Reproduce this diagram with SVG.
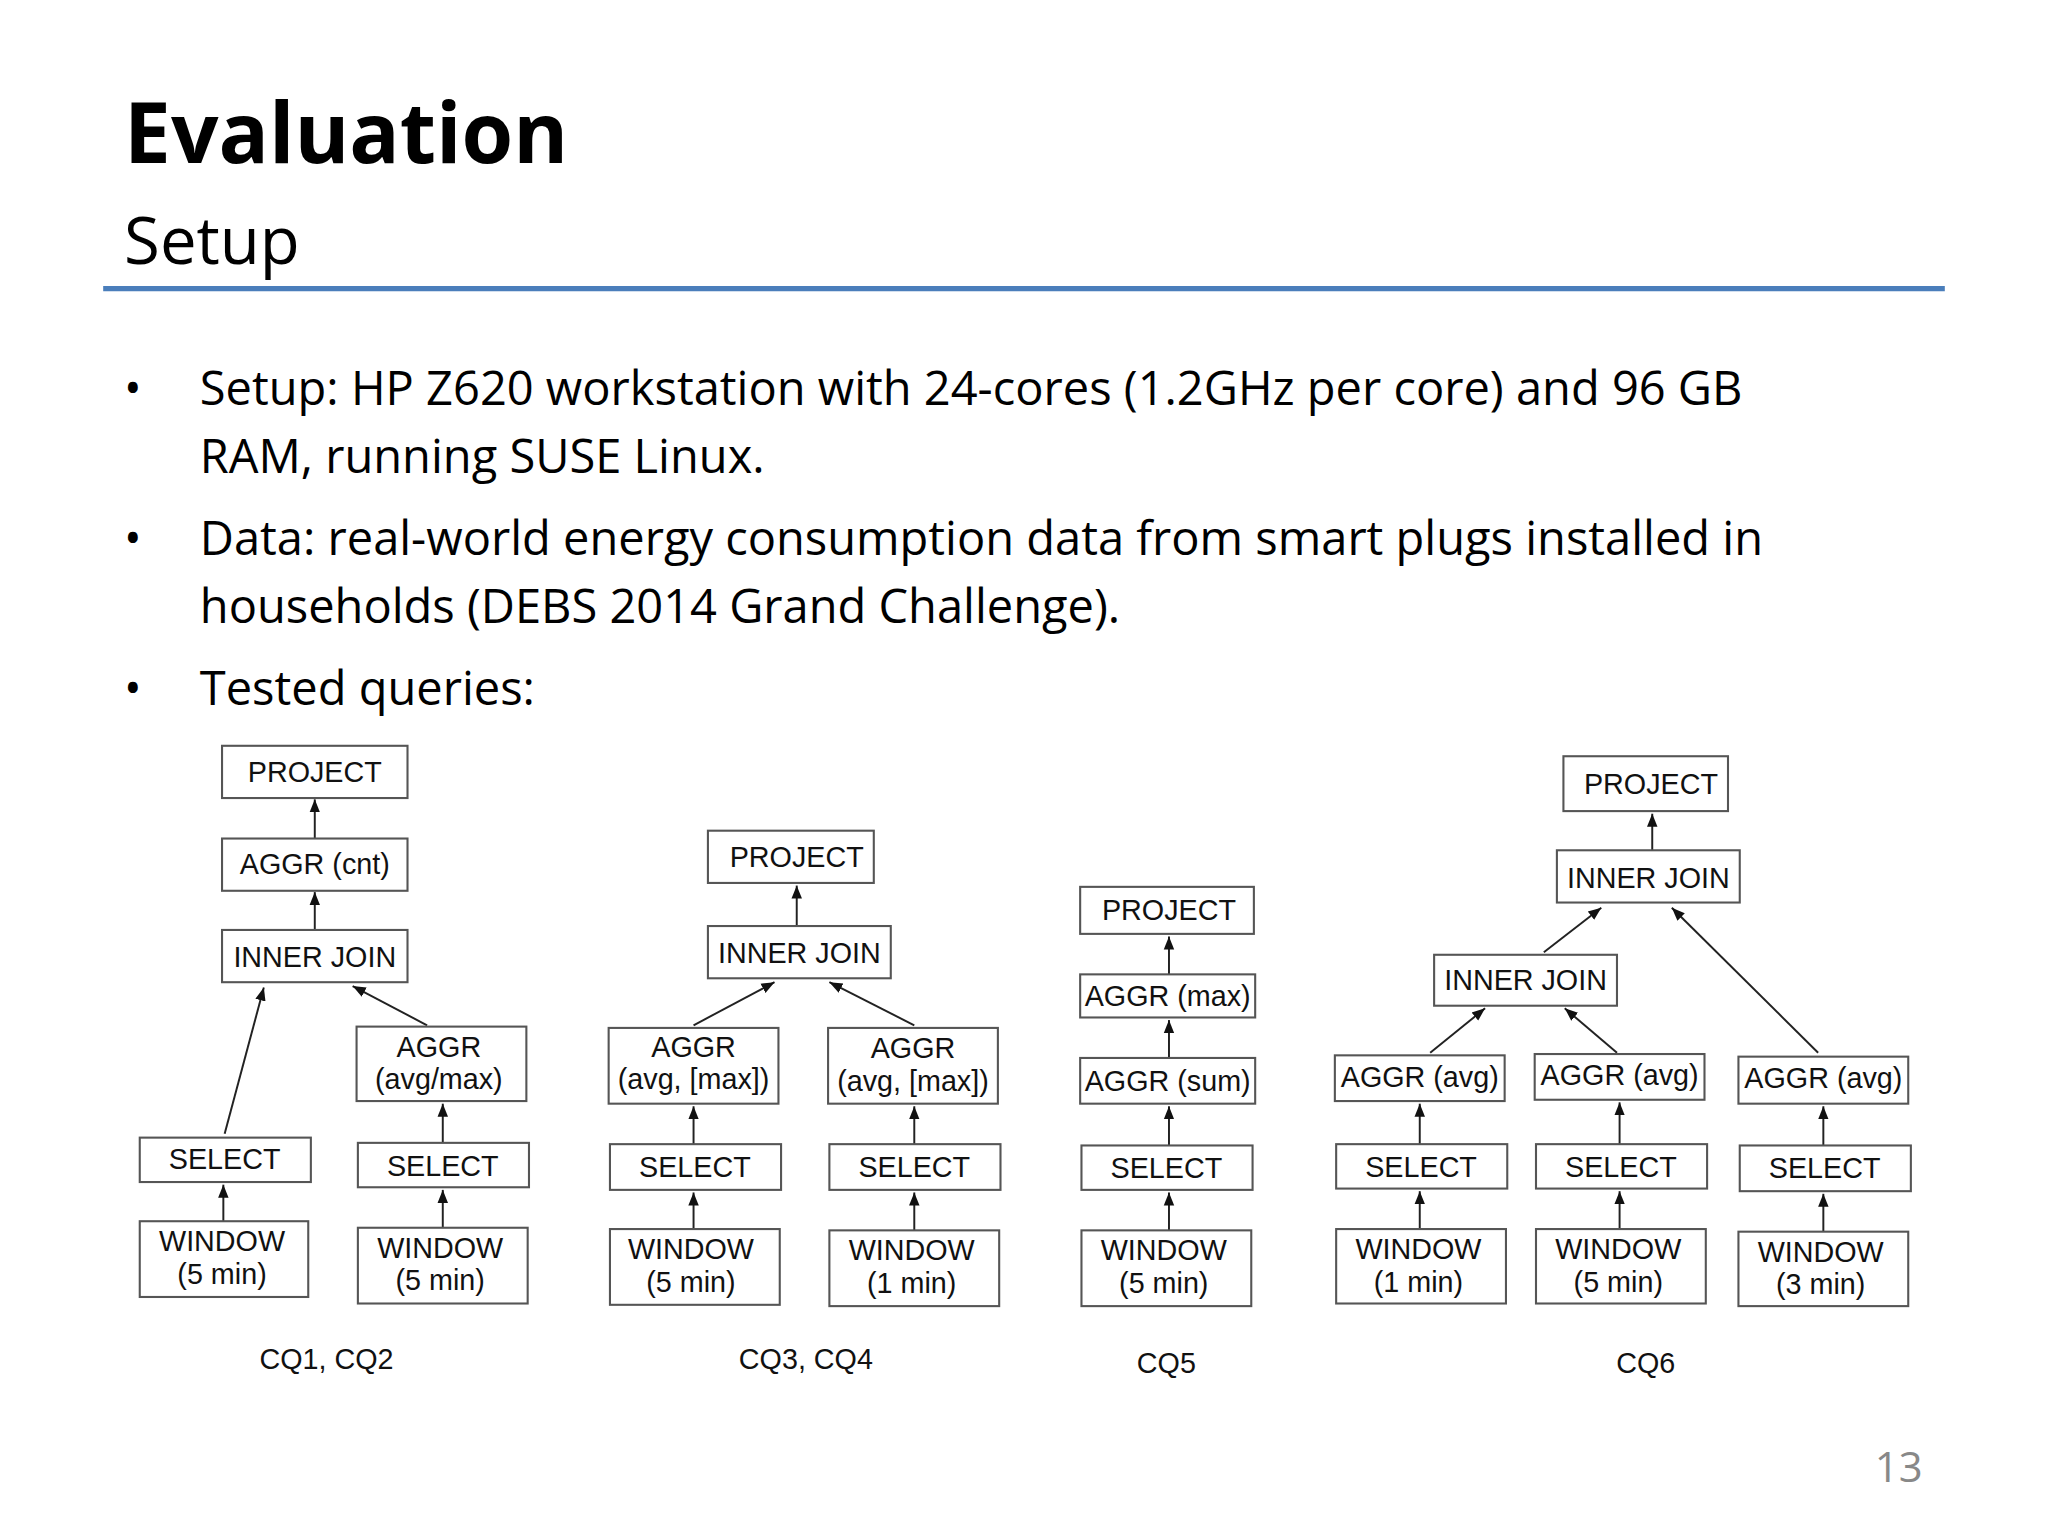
<svg xmlns="http://www.w3.org/2000/svg" width="2048" height="1536" viewBox="0 0 2048 1536">
<defs>
<marker id="ah" viewBox="0 0 10 10" refX="10" refY="5" markerWidth="10" markerHeight="10" markerUnits="userSpaceOnUse" orient="auto"><path d="M0,1 L10,5 L0,9 Z" fill="#111"/></marker>
<style>
.b{fill:#fff;stroke:#555;stroke-width:1.6}
.t{font-family:"Liberation Sans",Arial,sans-serif;font-size:22px;fill:#111;text-anchor:middle}
.c{stroke:#222;stroke-width:1.5;fill:none;marker-end:url(#ah)}
.s{font-family:"Open Sans","Noto Sans",sans-serif;fill:#000}
</style>
</defs>
<rect width="2048" height="1536" fill="#fff"/>
<g transform="scale(1.30612)">
<text class="s" x="95" y="125" font-size="64" font-weight="bold">Evaluation</text>
<text class="s" x="95" y="202" font-size="50">Setup</text>
<line x1="79" y1="221" x2="1489" y2="221" stroke="#4a7ebb" stroke-width="4"/>
<g class="s" font-size="36">
<text x="95" y="310">•</text><text x="153" y="310">Setup: HP Z620 workstation with 24-cores (1.2GHz per core) and 96 GB</text>
<text x="153" y="362">RAM, running SUSE Linux.</text>
<text x="95" y="425">•</text><text x="153" y="425">Data: real-world energy consumption data from smart plugs installed in</text>
<text x="153" y="477">households (DEBS 2014 Grand Challenge).</text>
<text x="95" y="540">•</text><text x="153" y="540">Tested queries:</text>
</g>
<text class="s" x="1472" y="1135" font-size="32" fill="#888" text-anchor="end" style="fill:#888">13</text>

<g id="connectors">
<line class="c" x1="241" y1="642" x2="241" y2="612"/>
<line class="c" x1="241" y1="712" x2="241" y2="683"/>
<line class="c" x1="172" y1="868" x2="202" y2="756"/>
<line class="c" x1="327" y1="785" x2="270" y2="755"/>
<line class="c" x1="339" y1="875" x2="339" y2="845"/>
<line class="c" x1="171" y1="935" x2="171" y2="907"/>
<line class="c" x1="339" y1="940" x2="339" y2="911"/>
<line class="c" x1="610" y1="709" x2="610" y2="678"/>
<line class="c" x1="531" y1="785" x2="593" y2="752"/>
<line class="c" x1="700" y1="785" x2="635" y2="752"/>
<line class="c" x1="531" y1="876" x2="531" y2="847"/>
<line class="c" x1="700" y1="876" x2="700" y2="847"/>
<line class="c" x1="531" y1="941" x2="531" y2="913"/>
<line class="c" x1="700" y1="942" x2="700" y2="913"/>
<line class="c" x1="895" y1="746" x2="895" y2="717"/>
<line class="c" x1="895" y1="810" x2="895" y2="781"/>
<line class="c" x1="895" y1="877" x2="895" y2="847"/>
<line class="c" x1="895" y1="942" x2="895" y2="913"/>
<line class="c" x1="1265" y1="651" x2="1265" y2="623"/>
<line class="c" x1="1182" y1="729" x2="1226" y2="695"/>
<line class="c" x1="1392" y1="806" x2="1280" y2="695"/>
<line class="c" x1="1095" y1="806" x2="1137" y2="772"/>
<line class="c" x1="1238" y1="806" x2="1198" y2="772"/>
<line class="c" x1="1087" y1="876" x2="1087" y2="845"/>
<line class="c" x1="1240" y1="876" x2="1240" y2="844"/>
<line class="c" x1="1396" y1="877" x2="1396" y2="847"/>
<line class="c" x1="1087" y1="941" x2="1087" y2="912"/>
<line class="c" x1="1240" y1="941" x2="1240" y2="912"/>
<line class="c" x1="1396" y1="943" x2="1396" y2="914"/>
</g>

<g id="cq1_project"><rect class="b" x="170" y="571" width="142" height="40"/><text class="t" x="241" y="599">PROJECT</text></g>
<g id="cq1_aggr"><rect class="b" x="170" y="642" width="142" height="40"/><text class="t" x="241" y="669">AGGR (cnt)</text></g>
<g id="cq1_join"><rect class="b" x="170" y="712" width="142" height="40"/><text class="t" x="241" y="740">INNER JOIN</text></g>
<g id="cq1_sel1"><rect class="b" x="107" y="871" width="131" height="34"/><text class="t" x="172" y="895">SELECT</text></g>
<g id="cq1_win1"><rect class="b" x="107" y="935" width="129" height="58"/><text class="t" x="170" y="958">WINDOW</text><text class="t" x="170" y="983">(5 min)</text></g>
<g id="cq1_aggr2"><rect class="b" x="273" y="786" width="130" height="57"/><text class="t" x="336" y="809">AGGR</text><text class="t" x="336" y="834">(avg/max)</text></g>
<g id="cq1_sel2"><rect class="b" x="274" y="875" width="131" height="34"/><text class="t" x="339" y="900">SELECT</text></g>
<g id="cq1_win2"><rect class="b" x="274" y="940" width="130" height="58"/><text class="t" x="337" y="963">WINDOW</text><text class="t" x="337" y="988">(5 min)</text></g>
<text class="t" x="250" y="1048">CQ1, CQ2</text>

<g id="cq3_project"><rect class="b" x="542" y="636" width="127" height="40"/><text class="t" x="610" y="664">PROJECT</text></g>
<g id="cq3_join"><rect class="b" x="542" y="709" width="140" height="40"/><text class="t" x="612" y="737">INNER JOIN</text></g>
<g id="cq3_aggr1"><rect class="b" x="466" y="787" width="130" height="58"/><text class="t" x="531" y="809">AGGR</text><text class="t" x="531" y="834">(avg, [max])</text></g>
<g id="cq3_aggr2"><rect class="b" x="634" y="787" width="130" height="58"/><text class="t" x="699" y="810">AGGR</text><text class="t" x="699" y="835">(avg, [max])</text></g>
<g id="cq3_sel1"><rect class="b" x="467" y="876" width="131" height="35"/><text class="t" x="532" y="901">SELECT</text></g>
<g id="cq3_sel2"><rect class="b" x="635" y="876" width="131" height="35"/><text class="t" x="700" y="901">SELECT</text></g>
<g id="cq3_win1"><rect class="b" x="467" y="941" width="130" height="58"/><text class="t" x="529" y="964">WINDOW</text><text class="t" x="529" y="989">(5 min)</text></g>
<g id="cq3_win2"><rect class="b" x="635" y="942" width="130" height="58"/><text class="t" x="698" y="965">WINDOW</text><text class="t" x="698" y="990">(1 min)</text></g>
<text class="t" x="617" y="1048">CQ3, CQ4</text>

<g id="cq5_project"><rect class="b" x="827" y="679" width="133" height="36"/><text class="t" x="895" y="704">PROJECT</text></g>
<g id="cq5_aggrmax"><rect class="b" x="827" y="746" width="134" height="33"/><text class="t" x="894" y="770">AGGR (max)</text></g>
<g id="cq5_aggrsum"><rect class="b" x="827" y="810" width="134" height="35"/><text class="t" x="894" y="835">AGGR (sum)</text></g>
<g id="cq5_sel"><rect class="b" x="828" y="877" width="131" height="34"/><text class="t" x="893" y="902">SELECT</text></g>
<g id="cq5_win"><rect class="b" x="828" y="942" width="130" height="58"/><text class="t" x="891" y="965">WINDOW</text><text class="t" x="891" y="990">(5 min)</text></g>
<text class="t" x="893" y="1051">CQ5</text>

<g id="cq6_project"><rect class="b" x="1197" y="579" width="126" height="42"/><text class="t" x="1264" y="608">PROJECT</text></g>
<g id="cq6_join1"><rect class="b" x="1192" y="651" width="140" height="40"/><text class="t" x="1262" y="680">INNER JOIN</text></g>
<g id="cq6_join2"><rect class="b" x="1098" y="731" width="140" height="39"/><text class="t" x="1168" y="758">INNER JOIN</text></g>
<g id="cq6_aggr1"><rect class="b" x="1022" y="808" width="130" height="35"/><text class="t" x="1087" y="832">AGGR (avg)</text></g>
<g id="cq6_aggr2"><rect class="b" x="1175" y="807" width="130" height="35"/><text class="t" x="1240" y="831">AGGR (avg)</text></g>
<g id="cq6_aggr3"><rect class="b" x="1331" y="809" width="130" height="36"/><text class="t" x="1396" y="833">AGGR (avg)</text></g>
<g id="cq6_sel1"><rect class="b" x="1023" y="876" width="131" height="34"/><text class="t" x="1088" y="901">SELECT</text></g>
<g id="cq6_sel2"><rect class="b" x="1176" y="876" width="131" height="34"/><text class="t" x="1241" y="901">SELECT</text></g>
<g id="cq6_sel3"><rect class="b" x="1332" y="877" width="131" height="35"/><text class="t" x="1397" y="902">SELECT</text></g>
<g id="cq6_win1"><rect class="b" x="1023" y="941" width="130" height="57"/><text class="t" x="1086" y="964">WINDOW</text><text class="t" x="1086" y="989">(1 min)</text></g>
<g id="cq6_win2"><rect class="b" x="1176" y="941" width="130" height="57"/><text class="t" x="1239" y="964">WINDOW</text><text class="t" x="1239" y="989">(5 min)</text></g>
<g id="cq6_win3"><rect class="b" x="1331" y="943" width="130" height="57"/><text class="t" x="1394" y="966">WINDOW</text><text class="t" x="1394" y="991">(3 min)</text></g>
<text class="t" x="1260" y="1051">CQ6</text>
</g>
</svg>
